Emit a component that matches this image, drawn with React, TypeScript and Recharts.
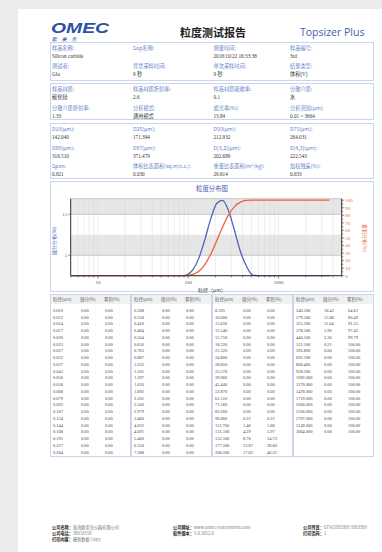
import { CartesianGrid, Line, LineChart, ReferenceArea, XAxis, YAxis } from "recharts";

// channel sizes (μm), per-channel volume % and cumulative %
const SIZES = [
  0.01, 0.012, 0.014, 0.017, 0.02, 0.023, 0.027, 0.032, 0.037, 0.043, 0.05,
  0.058, 0.068, 0.079, 0.092, 0.107, 0.124, 0.144, 0.168, 0.195, 0.227, 0.264,
  0.308, 0.358, 0.416, 0.484, 0.564, 0.656, 0.763, 0.887, 1.032, 1.201, 1.397,
  1.626, 1.892, 2.201, 2.56, 2.979, 3.466, 4.032, 4.691, 5.46, 6.35, 7.388,
  8.595, 10.0, 11.63, 13.54, 15.75, 18.32, 21.32, 24.8, 28.85, 33.57, 39.06,
  45.44, 52.87, 61.51, 71.56, 83.26, 96.86, 112.7, 131.1, 152.5, 177.5, 206.5,
  240.2, 279.5, 325.2, 378.3, 440.1, 512.1, 595.8, 693.1, 806.4, 938.2, 1092.0,
  1270.0, 1478.0, 1719.0, 2000.0, 2326.0, 2707.0, 3149.0, 3664.0,
];
const DIFF = [
  0, 0, 0, 0, 0, 0, 0, 0, 0, 0, 0, 0, 0, 0, 0, 0, 0, 0, 0, 0, 0, 0,
  0, 0, 0, 0, 0, 0, 0, 0, 0, 0, 0, 0, 0, 0, 0, 0, 0, 0, 0, 0, 0, 0,
  0, 0, 0, 0, 0, 0, 0, 0, 0, 0, 0, 0, 0, 0, 0, 0, 0.22, 1.46, 4.29, 8.76, 13.87, 17.62,
  18.41, 15.86, 11.04, 5.9, 2.36, 0.21, 0, 0, 0, 0, 0, 0, 0, 0, 0, 0, 0, 0, 0,
];
const CUM = [
  0, 0, 0, 0, 0, 0, 0, 0, 0, 0, 0, 0, 0, 0, 0, 0, 0, 0, 0, 0, 0, 0,
  0, 0, 0, 0, 0, 0, 0, 0, 0, 0, 0, 0, 0, 0, 0, 0, 0, 0, 0, 0, 0, 0,
  0, 0, 0, 0, 0, 0, 0, 0, 0, 0, 0, 0, 0, 0, 0, 0, 0.22, 1.68, 5.97, 14.73, 28.6, 46.22,
  64.63, 80.49, 91.53, 97.43, 99.79, 100, 100, 100, 100, 100, 100, 100, 100, 100, 100, 100, 100, 100, 100,
];
// rows per column group in the results table
const GROUP_ROWS = [22, 22, 22, 19];

const X_TICKS = [
  5, 6, 7, 8, 9, 10, 20, 30, 40, 50, 60, 70, 80, 90, 100, 200, 300, 400, 500,
  600, 700, 800, 900, 1000, 2000, 3000, 4000, 5000,
];
const X_LABELS = [10, 100, 1000];
const LEFT_TICKS = [0, 5, 10, 15];
const RIGHT_TICKS = [
  0, 5, 10, 15, 20, 25, 30, 35, 40, 45, 50, 55, 60, 65, 70, 75, 80, 85, 90, 95, 100,
];
const SHADED_BANDS = [
  [5, 10],
  [15, 18.8],
];

const INFO_1 = [
  ["样品名称:", "Silicon carbide"],
  ["Sop名称:", ""],
  ["测量时间:", "2018/10/22 16:33:38"],
  ["样品编号:", "3rd"],
  ["测试者:", "Glu"],
  ["背景采样时间:", "9 秒"],
  ["单次采样时间:", "9 秒"],
  ["结果类型:", "体积(V)"],
];
const INFO_2 = [
  ["样品材质:", "碳化硅"],
  ["样品材质折射率:", "2.6"],
  ["样品材质吸收率:", "0.1"],
  ["分散介质:", "水"],
  ["分散介质折射率:", "1.33"],
  ["分析模式:", "通用模式"],
  ["遮光率(%):", "13.84"],
  ["分析范围(μm):", "0.01 ~ 3664"],
];
const INFO_3 = [
  ["D10(μm):", "142.040"],
  ["D25(μm):", "171.394"],
  ["D50(μm):", "212.932"],
  ["D75(μm):", "264.031"],
  ["D90(μm):", "316.510"],
  ["D97(μm):", "371.479"],
  ["D[3,2](μm):", "202.689"],
  ["D[4,3](μm):", "222.543"],
  ["Span:", "0.821"],
  ["体积比表面积(sq.m/c.c.):", "0.030"],
  ["重量比表面积(m²/kg):", "29.614"],
  ["加权残差(%):", "0.633"],
];
const FOOTER = [
  [
    ["公司名称：", "珠海欧美克仪器有限公司"],
    ["公司电话：", "38916558"],
    ["打印内容：", "最新数据 Copy"],
  ],
  [
    ["公司网址：", "www.omec-instruments.com"],
    ["软件版本：", "5.0.1052.0"],
  ],
  [
    ["公司传真：", "07563383399 3383399"],
    ["打印页码：", "1"],
  ],
];

const SANS = '"Noto Sans CJK SC", "Noto Sans", sans-serif';
const SERIF = '"Liberation Serif", "Noto Sans CJK SC", serif';
const LABEL_BLUE = "#5f82c8";
const BOX_BORDER = "#c9d6ee";
const DIFF_BLUE = "#5163b3";
const CUM_RED = "#f2603f";

const COLS = [52, 133, 213.5, 290];

const chartData = SIZES.map((size, i) => ({ size, diff: DIFF[i], cum: CUM[i] }));

function Field({ x, y, label, value }: { x: number; y: number; label: string; value: string }) {
  return (
    <>
      <div
        style={{
          position: "absolute",
          left: x,
          top: y,
          fontFamily: SANS,
          fontSize: 5.2,
          lineHeight: "6px",
          color: LABEL_BLUE,
          whiteSpace: "nowrap",
        }}
      >
        {label}
      </div>
      <div
        style={{
          position: "absolute",
          left: x,
          top: y + 8,
          fontFamily: SERIF,
          fontSize: 5.2,
          lineHeight: "6px",
          color: "#333",
          whiteSpace: "nowrap",
        }}
      >
        {value}
      </div>
    </>
  );
}

function InfoBox({ top, height, rows, fields }: { top: number; height: number; rows: number[]; fields: string[][] }) {
  return (
    <>
      <div
        style={{
          position: "absolute",
          left: 50,
          top,
          width: 324,
          height,
          boxSizing: "border-box",
          border: `1px solid ${BOX_BORDER}`,
        }}
      />
      {fields.map(([label, value], i) => (
        <Field key={label} x={COLS[i % 4]} y={rows[Math.floor(i / 4)]} label={label} value={value} />
      ))}
    </>
  );
}

function XTick(props: any) {
  const { x, y, payload } = props;
  const major = X_LABELS.includes(payload.value);
  return (
    <g>
      <line x1={x} x2={x} y1={y} y2={y + (major ? 3 : 1.8)} stroke="#444" strokeWidth={0.6} />
      {major && (
        <text x={x} y={y + 8} textAnchor="middle" fontSize={5} fill="#555" fontFamily={SERIF}>
          {payload.value}
        </text>
      )}
    </g>
  );
}

function LeftTick(props: any) {
  const { x, y, payload } = props;
  return (
    <g>
      <line x1={x - 2.5} x2={x} y1={y} y2={y} stroke="#444" strokeWidth={0.6} />
      <text x={x - 3.5} y={y + 1.8} textAnchor="end" fontSize={5} fill={DIFF_BLUE} fontFamily={SERIF}>
        {payload.value}
      </text>
    </g>
  );
}

function RightTick(props: any) {
  const { x, y, payload } = props;
  const major = payload.value % 10 === 0;
  return (
    <g>
      <line x1={x} x2={x + (major ? 2.5 : 1.5)} y1={y} y2={y} stroke="#444" strokeWidth={0.6} />
      {major && (
        <text x={x + 3.5} y={y + 1.8} textAnchor="start" fontSize={5} fill={CUM_RED} fontFamily={SERIF}>
          {payload.value}
        </text>
      )}
    </g>
  );
}

function DistributionChart() {
  return (
    <LineChart
      width={325}
      height={111}
      data={chartData}
      margin={{ top: 17.7, right: 9, bottom: 0, left: 0 }}
    >
      {SHADED_BANDS.map(([y1, y2]) => (
        <ReferenceArea key={y1} yAxisId="left" y1={y1} y2={y2} fill="#d6d6d6" fillOpacity={0.6} stroke="none" />
      ))}
      <CartesianGrid yAxisId="left" horizontal={false} stroke="#e2e2e2" strokeWidth={0.6} />
      <CartesianGrid yAxisId="left" vertical={false} stroke="#9c9c9c" strokeWidth={0.6} />
      <XAxis
        dataKey="size"
        type="number"
        scale="log"
        domain={[5, 5000]}
        ticks={X_TICKS}
        allowDataOverflow
        interval={0}
        height={16.3}
        tickSize={0}
        tickMargin={0}
        tickLine={false}
        tick={<XTick />}
        stroke="#333"
      />
      <YAxis
        yAxisId="left"
        domain={[0, 18.8]}
        ticks={LEFT_TICKS}
        width={20.7}
        tickSize={0}
        tickMargin={0}
        tickLine={false}
        tick={<LeftTick />}
        stroke="#333"
      />
      <YAxis
        yAxisId="right"
        orientation="right"
        domain={[0, 102]}
        ticks={RIGHT_TICKS}
        interval={0}
        width={24.3}
        tickSize={0}
        tickMargin={0}
        tickLine={false}
        tick={<RightTick />}
        stroke="#333"
      />
      <Line
        yAxisId="left"
        type="monotone"
        dataKey="diff"
        stroke={DIFF_BLUE}
        strokeWidth={1.3}
        dot={false}
        isAnimationActive={false}
      />
      <Line
        yAxisId="right"
        type="monotone"
        dataKey="cum"
        stroke={CUM_RED}
        strokeWidth={1.3}
        dot={false}
        isAnimationActive={false}
      />
    </LineChart>
  );
}

function ResultTable() {
  let start = 0;
  return (
    <>
      {GROUP_ROWS.map((count, g) => {
        const from = start;
        start += count;
        const left = 50 + g * 81;
        return (
          <div
            key={g}
            style={{
              position: "absolute",
              left,
              top: 294,
              width: 80.5,
              height: 163,
              boxSizing: "border-box",
              border: `1px solid ${BOX_BORDER}`,
              fontSize: 4.4,
              color: "#444",
            }}
          >
            <div
              style={{
                position: "relative",
                height: 9,
                background: "#f1f1f1",
                fontFamily: SANS,
                color: "#666",
                lineHeight: "9px",
              }}
            >
              <span style={{ position: "absolute", left: 2 }}>粒径(μm)</span>
              <span style={{ position: "absolute", left: 29 }}>微分(%)</span>
              <span style={{ position: "absolute", left: 53 }}>累积(%)</span>
            </div>
            {SIZES.slice(from, from + count).map((size, r) => (
              <div
                key={r}
                style={{
                  position: "absolute",
                  top: 12.8 + r * 6.76,
                  left: 0,
                  right: 0,
                  height: 6.76,
                  lineHeight: "6.76px",
                  fontFamily: SERIF,
                }}
              >
                <span style={{ position: "absolute", left: 2 }}>{size.toFixed(3)}</span>
                <span style={{ position: "absolute", left: 30 }}>{DIFF[from + r].toFixed(2)}</span>
                <span style={{ position: "absolute", left: 54 }}>{CUM[from + r].toFixed(2)}</span>
              </div>
            ))}
          </div>
        );
      })}
    </>
  );
}

export default function App() {
  return (
    <div
      style={{
        position: "relative",
        width: 382,
        height: 552,
        overflow: "hidden",
        background: "#ececec",
        fontFamily: SERIF,
      }}
    >
      <style>{"body{margin:0}"}</style>
      <div style={{ position: "absolute", left: 18, top: 9, right: -10, bottom: -10, background: "#fff" }} />

      {/* header */}
      <svg style={{ position: "absolute", left: 50, top: 20 }} width={62} height={23}>
        <text
          x={1}
          y={12.5}
          fontFamily='"Liberation Sans", sans-serif'
          fontWeight="bold"
          fontStyle="italic"
          fontSize={14}
          fill="#2e50a4"
          textLength={58}
          lengthAdjust="spacingAndGlyphs"
        >
          OMEC
        </text>
        <text x={2} y={21} fontFamily={SANS} fontSize={4.8} fill="#2e50a4" letterSpacing={5} fontStyle="italic">
          欧美克
        </text>
      </svg>
      <div
        style={{
          position: "absolute",
          left: 163,
          width: 100,
          top: 25,
          textAlign: "center",
          fontFamily: SANS,
          fontWeight: 700,
          fontSize: 11,
          lineHeight: "14px",
          color: "#222",
        }}
      >
        粒度测试报告
      </div>
      <div
        style={{
          position: "absolute",
          left: 300,
          top: 25,
          fontFamily: '"Open Sans", sans-serif',
          fontSize: 10.5,
          lineHeight: "14px",
          color: "#3f60ad",
          whiteSpace: "nowrap",
        }}
      >
        Topsizer Plus
      </div>

      <InfoBox top={42} height={39} rows={[45, 63]} fields={INFO_1} />
      <InfoBox top={83} height={37} rows={[86, 104.5]} fields={INFO_2} />
      <InfoBox top={123} height={56} rows={[126, 144.5, 163]} fields={INFO_3} />

      {/* distribution chart */}
      <div
        style={{
          position: "absolute",
          left: 50,
          top: 181,
          width: 324,
          height: 111,
          boxSizing: "border-box",
          border: `1px solid ${BOX_BORDER}`,
        }}
      />
      <div
        style={{
          position: "absolute",
          left: 162,
          width: 100,
          top: 185,
          textAlign: "center",
          fontFamily: SANS,
          fontSize: 6.4,
          lineHeight: "8px",
          color: "#4a5fb0",
        }}
      >
        粒度分布图
      </div>
      <div style={{ position: "absolute", left: 50, top: 181 }}>
        <DistributionChart />
      </div>
      <div
        style={{
          position: "absolute",
          left: 54,
          top: 241,
          transform: "translate(-50%, -50%) rotate(-90deg)",
          fontFamily: SANS,
          fontSize: 5,
          lineHeight: "6px",
          color: DIFF_BLUE,
          whiteSpace: "nowrap",
        }}
      >
        微分分布(%)
      </div>
      <div
        style={{
          position: "absolute",
          left: 365,
          top: 238,
          transform: "translate(-50%, -50%) rotate(90deg)",
          fontFamily: SANS,
          fontSize: 5,
          lineHeight: "6px",
          color: CUM_RED,
          whiteSpace: "nowrap",
        }}
      >
        累积分布(%)
      </div>
      <div
        style={{
          position: "absolute",
          left: 162,
          width: 100,
          top: 286,
          textAlign: "center",
          fontFamily: SANS,
          fontSize: 5,
          lineHeight: "7px",
          color: "#444",
        }}
      >
        粒径（μm）
      </div>

      <ResultTable />

      {/* footer */}
      {FOOTER.map((col, c) =>
        col.map(([label, value], r) => (
          <div
            key={`${c}-${r}`}
            style={{
              position: "absolute",
              left: [52, 173, 303][c],
              top: 525 + r * 6.2,
              fontFamily: SANS,
              fontSize: 4.2,
              lineHeight: "5px",
              whiteSpace: "nowrap",
            }}
          >
            <span style={{ color: "#222", fontWeight: 700 }}>{label}</span>
            <span style={{ color: "#777" }}>{value}</span>
          </div>
        )),
      )}
    </div>
  );
}
